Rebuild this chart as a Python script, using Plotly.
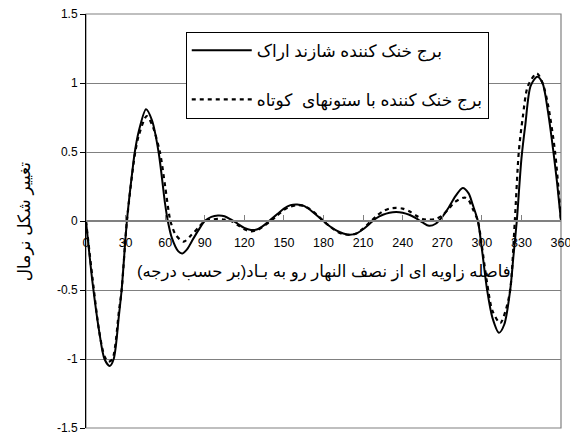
import plotly.graph_objects as go

# Angle from the windward meridian (degrees) and normalised deformation
angle_shazand = [0, 5, 10, 14, 18, 21, 25, 27, 31, 35, 37, 40, 45.5, 50, 55, 60, 62, 65, 70, 73, 77, 80, 85,
                 90, 95, 100, 105, 110, 115, 120, 125, 130, 135, 140, 145, 150, 155, 160, 165, 170, 175,
                 180, 185, 190, 195, 200, 205, 210, 215, 220, 225, 230, 235, 240, 245, 250, 255, 260, 265,
                 270, 275, 280, 285.5, 290, 293, 297, 300, 304, 308, 313, 317, 321.5, 324, 326.5, 330, 333,
                 337, 342, 346, 350, 354, 357, 360]
value_shazand = [0, -0.45, -0.8, -1.0, -1.05, -1.0, -0.68, -0.5, 0.0, 0.35, 0.5, 0.65, 0.81, 0.73, 0.5, 0.12,
                 0.0, -0.12, -0.22, -0.235, -0.2, -0.15, -0.07,
                 0.0, 0.03, 0.04, 0.035, 0.01, -0.02, -0.05, -0.065, -0.06, -0.03, 0.01, 0.05, 0.09, 0.115,
                 0.12, 0.11, 0.08, 0.04,
                 0.0, -0.04, -0.07, -0.09, -0.10, -0.09, -0.06, -0.02, 0.02, 0.045, 0.06, 0.065, 0.06, 0.045,
                 0.02, -0.01, -0.035, -0.02,
                 0.03, 0.1, 0.18, 0.24, 0.2, 0.12, 0.0, -0.2, -0.5, -0.7, -0.81, -0.75, -0.5, -0.25, 0.0, 0.45,
                 0.7, 0.98, 1.045, 1.0, 0.8, 0.52, 0.28, 0.0]

angle_short = [0, 5, 10, 14, 17, 20, 25, 27, 31, 37, 40, 46, 50, 56, 60, 64, 68, 74, 80, 85,
               90, 95, 100, 105, 110, 115, 120, 125, 130, 135, 140, 145, 150, 155, 160, 165, 170, 175,
               180, 185, 190, 195, 200, 205, 210, 215, 220, 225, 230, 235, 240, 245, 250, 255, 260, 265,
               270, 275, 280, 287, 290, 293, 297, 300, 304, 308, 314, 318, 321.5, 325, 328, 331,
               335, 341.7, 346, 350, 355.5, 360]
value_short = [0, -0.42, -0.8, -0.98, -1.02, -1.0, -0.65, -0.5, 0.0, 0.48, 0.62, 0.76, 0.7, 0.5, 0.25,
               0.0, -0.1, -0.15, -0.1, -0.05,
               0.0, 0.01, 0.015, 0.01, 0.0, -0.03, -0.06, -0.075, -0.065, -0.035, 0.0, 0.04, 0.08, 0.105,
               0.115, 0.11, 0.085, 0.045,
               0.0, -0.04, -0.075, -0.095, -0.10, -0.09, -0.055, -0.01, 0.035, 0.07, 0.09, 0.095, 0.09, 0.07,
               0.04, 0.015, 0.01, 0.015,
               0.04, 0.09, 0.14, 0.17, 0.15, 0.09, 0.0, -0.18, -0.45, -0.65, -0.74, -0.65, -0.5, 0.0, 0.5,
               0.75, 0.98, 1.07, 1.0, 0.85, 0.5, 0.0]

name_shazand = "برج خنک کننده شازند اراک"
name_short = "برج خنک کننده با ستونهای  کوتاه"
x_title = "فاصله زاویه ای از نصف النهار رو به بـاد(بر حسب درجه)"
y_title = "تغییر شکل نرمال"
x_ticks = list(range(0, 361, 30))
y_ticks = [1.5, 1, 0.5, 0, -0.5, -1, -1.5]

FONT = "Liberation Sans, Arial, DejaVu Sans, sans-serif"

fig = go.Figure()
fig.add_trace(go.Scatter(x=angle_shazand, y=value_shazand, mode="lines", name=name_shazand,
                         legendgroup="a",
                         line=dict(color="black", width=2, shape="spline", smoothing=0.8)))
fig.add_trace(go.Scatter(x=angle_short, y=value_short, mode="lines", name=name_short,
                         legendgroup="b",
                         line=dict(color="black", width=2.2, dash="4px,4px", shape="spline", smoothing=0.8)))

# the page body adds an 8px offset, so the figure is 570x431 to fill the 578x439 window
fig.update_layout(
    width=570, height=431,
    margin=dict(l=78, r=17, t=6, b=11),
    paper_bgcolor="white", plot_bgcolor="white",
    font=dict(family=FONT, size=12, color="black"),
    showlegend=True,
    legend=dict(x=0.21, y=0.957, xanchor="left", yanchor="top",
                bgcolor="white", bordercolor="black", borderwidth=1,
                font=dict(size=17, family=FONT), tracegroupgap=24, itemwidth=60,
                traceorder="grouped"),
    xaxis=dict(range=[0, 360], tickvals=x_ticks, ticktext=[str(v) for v in x_ticks],
               anchor="free", position=0.5, showline=True, linecolor="#808080", linewidth=1.5,
               ticks="inside", ticklen=5, tickcolor="#808080", showgrid=False, zeroline=False,
               ticklabelstandoff=10, tickfont=dict(size=12.5), automargin=False,
               ticklabeloverflow="allow"),
    yaxis=dict(range=[-1.5, 1.5], tickvals=y_ticks, ticktext=[str(v) for v in y_ticks],
               showline=True, linecolor="black", linewidth=1, ticks="outside", ticklen=5,
               tickcolor="black", showgrid=True, gridcolor="#808080", gridwidth=1.2,
               zeroline=False, tickfont=dict(size=12), automargin=False,
               ticklabeloverflow="allow"),
    shapes=[dict(type="rect", xref="x domain", yref="y domain", x0=0, x1=1, y0=0, y1=1,
                 line=dict(color="#808080", width=1.2), layer="below")],
    annotations=[
        dict(text=x_title, xref="x domain", yref="y domain", x=0.5, y=0.377,
             showarrow=False, font=dict(size=16.5), xanchor="center", yanchor="middle"),
        dict(text=y_title, xref="x domain", yref="y domain", x=-0.13, y=0.5, textangle=-90,
             showarrow=False, font=dict(size=17), xanchor="center", yanchor="middle"),
    ],
)

fig.write_html("out.html")
